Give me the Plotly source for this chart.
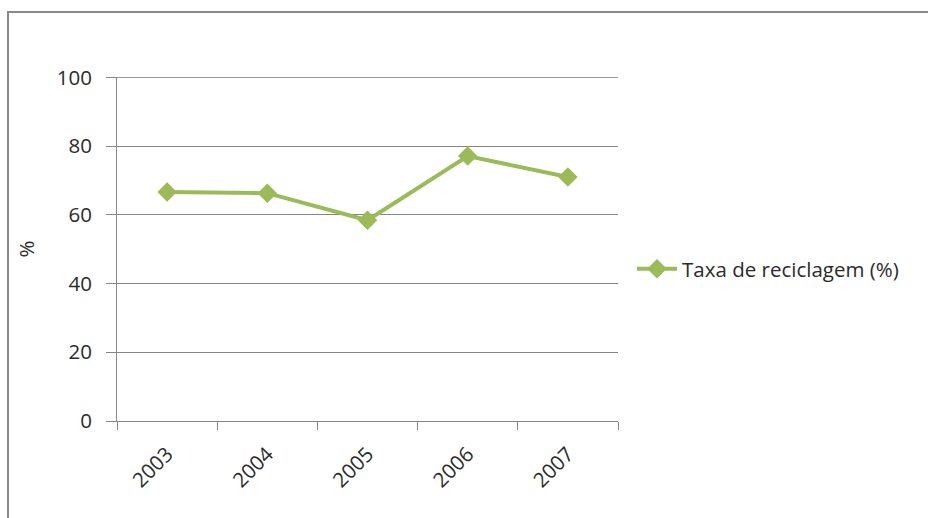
import plotly.graph_objects as go

# Recycling rate by year
anos = ["2003", "2004", "2005", "2006", "2007"]
taxa = [66.6, 66.3, 58.4, 77.1, 71.0]
y_ticks = [0, 20, 40, 60, 80, 100]

verde = "#9BBB59"
cinza = "#868686"
texto = "#2b2b2b"
fonte = "Open Sans"
tam = 20.5

fig = go.Figure()
fig.add_trace(go.Scatter(
    x=list(range(len(anos))), y=taxa, mode="lines+markers",
    name="Taxa de reciclagem (%)",
    line=dict(color=verde, width=4),
    marker=dict(symbol="diamond", size=15, color=verde),
))

W, H = 928, 518
L, R, T, B = 117, 310, 77, 97
pw, ph = W - L - R, H - T - B

def px_x(p):
    return (p - L) / pw

def px_y(p):
    return (H - B - p) / ph

fig.update_layout(
    width=W, height=H,
    margin=dict(l=L, r=R, t=T, b=B, autoexpand=False),
    paper_bgcolor="white", plot_bgcolor="white",
    font=dict(family=fonte, size=tam, color=texto),
    showlegend=True,
    legend=dict(x=px_x(632), y=px_y(269), xanchor="left", yanchor="middle",
                font=dict(family=fonte, size=tam, color=texto),
                bgcolor="rgba(0,0,0,0)", itemwidth=40),
    xaxis=dict(
        range=[-0.5, len(anos) - 0.5],
        tickmode="array", tickvals=list(range(len(anos))), ticktext=anos,
        ticks="", showline=True, linecolor=cinza, linewidth=1,
        showgrid=False, tickangle=-45, zeroline=False,
        ticklabelstandoff=12,
        tickfont=dict(family=fonte, size=tam, color=texto),
        minor=dict(tickmode="array",
                   tickvals=[i - 0.5 for i in range(len(anos) + 1)],
                   ticks="outside", ticklen=8, tickcolor=cinza, showgrid=False),
    ),
    yaxis=dict(
        range=[0, 100.1], tickvals=y_ticks, ticks="outside", ticklen=10,
        tickcolor=cinza, showline=True, linecolor=cinza, linewidth=1,
        showgrid=True, gridcolor=cinza, gridwidth=1, zeroline=False,
        ticklabelstandoff=10,
        tickfont=dict(family=fonte, size=tam, color=texto),
        title=dict(text="%", standoff=16, font=dict(family=fonte, size=tam, color=texto)),
    ),
    shapes=[
        # top gridline at 100
        dict(type="line", xref="paper", yref="y", x0=0, x1=1,
             y0=y_ticks[-1], y1=y_ticks[-1], line=dict(color=cinza, width=1)),
        # chart-area frame
        dict(type="line", xref="paper", yref="paper",
             x0=px_x(8), x1=px_x(8), y0=px_y(530), y1=px_y(12),
             line=dict(color="#888888", width=2)),
        dict(type="line", xref="paper", yref="paper",
             x0=px_x(7), x1=px_x(940), y0=px_y(12), y1=px_y(12),
             line=dict(color="#888888", width=2)),
    ],
)

fig.write_html("out.html")
